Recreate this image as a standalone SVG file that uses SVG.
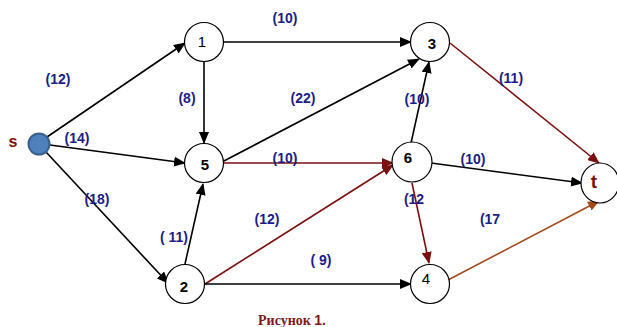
<svg xmlns="http://www.w3.org/2000/svg" width="617" height="327" viewBox="0 0 617 327">
<style>
.node{fill:#fff;stroke:#000;stroke-width:1.2}
.e{fill:none;stroke-width:1.6}
.blk{stroke:#000}
.red{stroke:#7a0f0f}
.brn{stroke:#a24a1c}
.lbl{font-family:"Liberation Sans",Arial,sans-serif;font-weight:bold;font-size:14px;fill:#1c1c86;text-anchor:middle}
.nl{font-family:"Liberation Sans",Arial,sans-serif;font-size:15px;fill:#000;text-anchor:middle}
.b{font-weight:bold}
</style>
<defs>
<marker id="ab" markerWidth="12" markerHeight="10" refX="11" refY="5" orient="auto" markerUnits="userSpaceOnUse"><path d="M0,0 L12,5 L0,10 z" fill="#000"/></marker>
<marker id="ar" markerWidth="12" markerHeight="10" refX="11" refY="5" orient="auto" markerUnits="userSpaceOnUse"><path d="M0,0 L12,5 L0,10 z" fill="#7a0f0f"/></marker>
<marker id="ao" markerWidth="12" markerHeight="10" refX="11" refY="5" orient="auto" markerUnits="userSpaceOnUse"><path d="M0,0 L12,5 L0,10 z" fill="#a24a1c"/></marker>
</defs>
<g id="connectors">
<line class="e blk" x1="47" y1="137" x2="185" y2="43" marker-end="url(#ab)"/>
<line class="e blk" x1="50" y1="145" x2="185" y2="163" marker-end="url(#ab)"/>
<line class="e blk" x1="46" y1="152" x2="168" y2="283" marker-end="url(#ab)"/>
<line class="e blk" x1="223" y1="42" x2="411" y2="42" marker-end="url(#ab)"/>
<line class="e blk" x1="204" y1="62" x2="204" y2="143" marker-end="url(#ab)"/>
<line class="e blk" x1="222" y1="162" x2="419" y2="59" marker-end="url(#ab)"/>
<line class="e red" x1="223" y1="163" x2="393" y2="163" marker-end="url(#ar)"/>
<line class="e blk" x1="185" y1="264" x2="203" y2="184" marker-end="url(#ab)"/>
<line class="e red" x1="205" y1="284" x2="393" y2="165" marker-end="url(#ar)"/>
<line class="e blk" x1="205" y1="284" x2="411" y2="284" marker-end="url(#ab)"/>
<line class="e blk" x1="411" y1="143" x2="429" y2="62" marker-end="url(#ab)"/>
<line class="e blk" x1="431" y1="163" x2="582" y2="183" marker-end="url(#ab)"/>
<line class="e red" x1="412" y1="183" x2="429" y2="263" marker-end="url(#ar)"/>
<line class="e red" x1="450" y1="43" x2="599" y2="163" marker-end="url(#ar)"/>
<line class="e brn" x1="448" y1="280" x2="599" y2="201" marker-end="url(#ao)"/>
</g>
<g id="labels">
<text class="lbl" x="285" y="23">(10)</text>
<text class="lbl" x="58" y="84">(12)</text>
<text class="lbl" x="187" y="103">(8)</text>
<text class="lbl" x="303" y="103">(22)</text>
<text class="lbl" x="417" y="104">(10)</text>
<text class="lbl" x="511" y="83">(11)</text>
<text class="lbl" x="77" y="143">(14)</text>
<text class="lbl" x="285" y="163">(10)</text>
<text class="lbl" x="473" y="164">(10)</text>
<text class="lbl" x="97" y="204">(18)</text>
<text class="lbl" x="267" y="224">(12)</text>
<text class="lbl" x="174" y="242">( 11)</text>
<text class="lbl" x="414" y="204">(12</text>
<text class="lbl" x="490" y="224">(17</text>
<text class="lbl" x="321" y="265">( 9)</text>
</g>
<g id="node-s">
<circle cx="39" cy="144" r="10.5" fill="#4f81bd" stroke="#3a5f8c" stroke-width="2"/>
<text x="13" y="147" font-family="Liberation Sans,Arial,sans-serif" font-weight="bold" font-size="16" fill="#7a0f0f" text-anchor="middle">s</text>
</g>
<g id="node-1"><circle class="node" cx="204" cy="42" r="19.5"/><text class="nl" x="202" y="47" font-size="17">1</text></g>
<g id="node-3"><circle class="node" cx="430" cy="42" r="19.5"/><text class="nl b" x="432" y="49">3</text></g>
<g id="node-5"><circle class="node" cx="204" cy="163" r="19.5"/><text class="nl b" x="205" y="170" font-size="14">5</text></g>
<g id="node-6"><circle class="node" cx="412" cy="162" r="20"/><text class="nl b" x="408" y="163">6</text></g>
<g id="node-2"><circle class="node" cx="185" cy="284" r="19.5"/><text class="nl b" x="184" y="292">2</text></g>
<g id="node-4"><circle class="node" cx="430" cy="284" r="19.5"/><text class="nl" x="426" y="284" font-size="14">4</text></g>
<g id="node-t"><ellipse class="node" cx="600" cy="183" rx="19" ry="20"/><text x="594" y="188" font-family="Liberation Sans,Arial,sans-serif" font-weight="bold" font-size="19" fill="#7a0f0f" text-anchor="middle">t</text></g>
<text x="292" y="325" font-family="Liberation Serif,Times New Roman,serif" font-weight="bold" font-size="14" fill="#7a1a1a" text-anchor="middle">Рисунок <tspan font-family="Liberation Sans,Arial,sans-serif">1.</tspan></text>
</svg>
